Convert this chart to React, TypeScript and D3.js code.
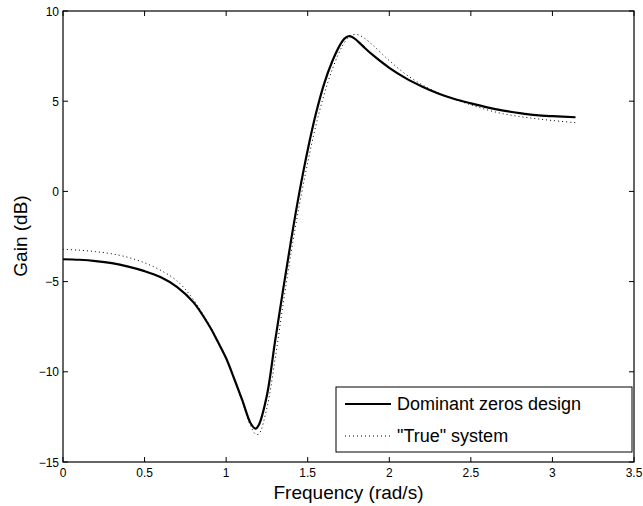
import React from "react";
import * as d3 from "d3";

const freq = [0, 0.1, 0.2, 0.3, 0.4, 0.5, 0.6, 0.7, 0.8, 0.9, 0.95, 1.0, 1.05, 1.1, 1.15, 1.18, 1.2, 1.25, 1.3, 1.35, 1.4, 1.45, 1.5, 1.55, 1.6, 1.65, 1.7, 1.725, 1.75, 1.775, 1.8, 1.825, 1.85, 1.9, 2.0, 2.1, 2.2, 2.3, 2.4, 2.5, 2.6, 2.7, 2.8, 2.9, 3.0, 3.1416];
const dominantZeros = [-3.76, -3.79, -3.86, -3.98, -4.17, -4.42, -4.76, -5.3, -6.15, -7.5, -8.35, -9.25, -10.4, -11.6, -12.85, -13.15, -12.95, -11.3, -8.3, -5.4, -2.6, 0.0, 2.3, 4.3, 5.95, 7.2, 8.15, 8.47, 8.6, 8.55, 8.38, 8.17, 7.95, 7.55, 6.85, 6.28, 5.82, 5.43, 5.12, 4.88, 4.66, 4.48, 4.34, 4.23, 4.17, 4.11];
const trueSystem = [-3.21, -3.26, -3.34, -3.46, -3.66, -3.96, -4.38, -4.97, -6.0, -7.45, -8.3, -9.25, -10.4, -11.7, -13.0, -13.45, -13.45, -12.0, -9.3, -6.2, -3.3, -0.7, 1.6, 3.65, 5.35, 6.75, 7.85, 8.25, 8.52, 8.68, 8.7, 8.62, 8.48, 8.1, 7.25, 6.5, 5.92, 5.46, 5.1, 4.8, 4.52, 4.3, 4.15, 4.03, 3.93, 3.81];
const xTicks = [0, 0.5, 1, 1.5, 2, 2.5, 3, 3.5];
const yTicks = [-15, -10, -5, 0, 5, 10];
const legendLabels = ["Dominant zeros design", "\"True\" system"];

const W = 643, H = 506;
const L = 63, R = 634, T = 11, B = 462;
const font = "'Liberation Sans', Arial, Helvetica, sans-serif";

export default function App() {
  const x = d3.scaleLinear().domain([0, 3.5]).range([L, R]);
  const y = d3.scaleLinear().domain([-15, 10]).range([B, T]);
  const line = d3.line<number>().x((_, i) => x(freq[i])).y(d => y(d)).curve(d3.curveCatmullRom.alpha(0.5));
  const fmt = (v: number) => (v < 0 ? "\u2212" + Math.abs(v) : String(v));
  const tl = 5;
  return (
    <svg width={W} height={H} style={{ position: "absolute", left: 0, top: 0 }}>
      <rect x={0} y={0} width={W} height={H} fill="#fff" />
      <path d={line(trueSystem) || ""} fill="none" stroke="#000" strokeWidth={1} strokeDasharray="1,3" />
      <path d={line(dominantZeros) || ""} fill="none" stroke="#000" strokeWidth={2.2} />
      <rect x={L} y={T} width={R - L} height={B - T} fill="none" stroke="#000" strokeWidth={1.2} />
      {xTicks.map(t => (
        <g key={"x" + t}>
          <line x1={x(t)} x2={x(t)} y1={B} y2={B - tl} stroke="#000" />
          <line x1={x(t)} x2={x(t)} y1={T} y2={T + tl} stroke="#000" />
          <text x={x(t)} y={B + 15} textAnchor="middle" fontFamily={font} fontSize={12}>{t}</text>
        </g>
      ))}
      {yTicks.map(t => (
        <g key={"y" + t}>
          <line x1={L} x2={L + tl} y1={y(t)} y2={y(t)} stroke="#000" />
          <line x1={R} x2={R - tl} y1={y(t)} y2={y(t)} stroke="#000" />
          <text x={L - 4} y={y(t) + 4.5} textAnchor="end" fontFamily={font} fontSize={12}>{fmt(t)}</text>
        </g>
      ))}
      <text x={(L + R) / 2} y={499} textAnchor="middle" fontFamily={font} fontSize={19}>Frequency (rad/s)</text>
      <text transform={`translate(27,236) rotate(-90)`} textAnchor="middle" fontFamily={font} fontSize={19}>Gain (dB)</text>
      <g>
        <rect x={336} y={387} width={296} height={65} fill="#fff" stroke="#000" strokeWidth={1} />
        <line x1={345} x2={391} y1={404} y2={404} stroke="#000" strokeWidth={2.2} />
        <line x1={345} x2={391} y1={436} y2={436} stroke="#000" strokeWidth={1} strokeDasharray="1,3" />
        <text x={397} y={410} fontFamily={font} fontSize={18}>{legendLabels[0]}</text>
        <text x={397} y={442} fontFamily={font} fontSize={18}>{legendLabels[1]}</text>
      </g>
    </svg>
  );
}
